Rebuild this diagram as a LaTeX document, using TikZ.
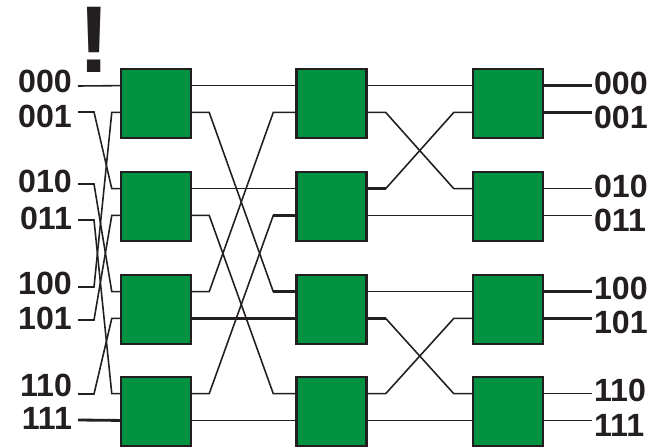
\documentclass[tikz,border=0pt]{standalone}
\usepackage{fontspec}
\setmainfont{Liberation Sans}
\usetikzlibrary{positioning,calc}
\definecolor{swgreen}{RGB}{0,146,64}
\definecolor{ink}{RGB}{35,31,32}
\tikzset{
  sw/.style={draw=ink, line width=1.4pt, fill=swgreen, minimum width=1.4cm, minimum height=1.38cm, inner sep=0pt},
  wire/.style={draw=ink, line width=0.9pt},
  thk/.style={draw=ink, line width=1.6pt},
  lbl/.style={font=\bfseries\fontsize{18.3}{20}\selectfont, text=ink, inner sep=1pt},
}

\begin{document}
\begin{tikzpicture}[x=0.02cm, y=-0.02cm]
    \useasboundingbox (0,0) rectangle (664,447);

    % Switches: three stages of four
    \foreach \c/\x in {1/156, 2/331.5, 3/508} {
      \foreach \r/\y in {1/103.5, 2/206.5, 3/309.5, 4/411.5} {
        \node[sw] (s\c\r) at (\x,\y) {};
        \coordinate (s\c\r-iu) at ($(s\c\r.north west)!0.25!(s\c\r.south west)$);
        \coordinate (s\c\r-il) at ($(s\c\r.north west)!0.625!(s\c\r.south west)$);
        \coordinate (s\c\r-ou) at ($(s\c\r.north east)!0.25!(s\c\r.south east)$);
        \coordinate (s\c\r-ol) at ($(s\c\r.north east)!0.625!(s\c\r.south east)$);
      }
    }

    % Inputs
    \node[font=\bfseries\fontsize{54}{54}\selectfont, text=ink] (excl) at (94,40) {!};
    \foreach \n/\ty/\ly in {000/81.5/86, 001/116/112, 010/181.5/184, 011/218/220,
                            100/283/287, 101/318/320, 110/385/394, 111/418/420} {
      \node[lbl, anchor=east] (in\n) at (74,\ty) {\n};
      \coordinate (a\n) at (78,\ly);
    }
    \draw[wire] (a000) -- (s11-iu);
    \draw[thk] (a111) -- (s14-il);
    \foreach \a/\b in {001/s12-iu, 010/s13-iu, 011/s14-iu, 100/s11-il, 101/s12-il, 110/s13-il}
      \draw[wire] (a\a) -- ++(16,0) -- ($(\b)+(-8,0)$) -- (\b);

    % Stage 1 to stage 2
    \draw[wire] (s11-ou) -- (s21-iu);
    \draw[wire] (s12-ou) -- (s22-iu);
    \draw[thk] (s13-ol) -- (s23-il);
    \draw[wire] (s14-ol) -- (s24-il);
    \foreach \a/\b in {s11-ol/s23-iu, s12-ol/s24-iu, s13-ou/s21-il, s14-ou/s22-il}
      \draw[wire] (\a) -- ++(17,0) -- ($(\b)+(-22,0)$) -- (\b);
    \draw[thk] (s23-iu) -- ++(-22,0);
    \draw[thk] (s22-il) -- ++(-22,0);

    % Stage 2 to stage 3
    \draw[wire] (s21-ou) -- (s31-iu);
    \draw[wire] (s22-ol) -- (s32-il);
    \draw[wire] (s23-ou) -- (s33-iu);
    \draw[wire] (s24-ol) -- (s34-il);
    \foreach \a/\b in {s21-ol/s32-iu, s22-ou/s31-il, s23-ol/s34-iu, s24-ou/s33-il}
      \draw[wire] (\a) -- ++(18,0) -- ($(\b)+(-18,0)$) -- (\b);
    \draw[thk] (s22-ou) -- ++(18,0);
    \draw[thk] (s23-ol) -- ++(18,0);

    % Outputs
    \foreach \n/\ty/\p/\st in {000/83.5/s31-ou/thk, 001/117/s31-ol/thk, 010/186.5/s32-ou/wire, 011/220/s32-ol/wire,
                               100/288.5/s33-ou/thk, 101/322/s33-ol/thk, 110/390/s34-ou/wire, 111/425/s34-ol/wire} {
      \node[lbl, anchor=west] (out\n) at (592,\ty) {\n};
      \draw[\st] (\p) -- (\p -| out\n.west);
    }
\end{tikzpicture}
\end{document}
